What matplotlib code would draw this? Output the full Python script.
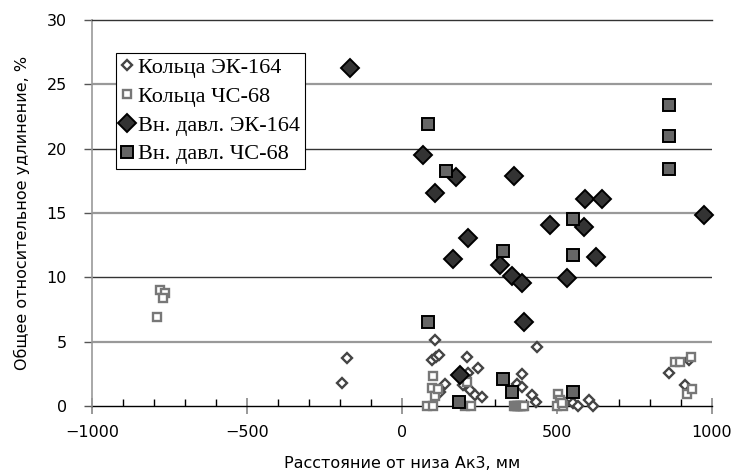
import numpy as np
import matplotlib
matplotlib.use('Agg')
import matplotlib.pyplot as plt
from matplotlib.ticker import MultipleLocator

# Кольца ЭК-164 (small open diamonds)
rings_ek_x = [-195, -178, 106, 98, 110, 120, 209, 246, 214, 139, 123, 198, 219, 235, 257,
              386, 370, 386, 418, 431, 434, 525, 553, 569, 603, 617, 861, 925, 913]
rings_ek_y = [1.8, 3.7, 5.15, 3.6, 3.8, 4.0, 3.8, 2.95, 2.6, 1.75, 1.1, 1.6, 1.25, 0.85, 0.7,
              2.5, 1.75, 1.5, 0.85, 0.3, 4.6, 0.2, 0.25, 0.0, 0.5, 0.0, 2.6, 3.6, 1.6]

# Кольца ЧС-68 (small open squares)
rings_cs_x = [-781, -765, -772, -789, 101, 96, 106, 80, 99, 115, 203, 222, 209,
              360, 365, 370, 375, 380, 385, 390, 395,
              502, 510, 499, 520, 515, 881, 897, 933, 920, 935]
rings_cs_y = [9.05, 8.8, 8.4, 6.9, 2.35, 1.4, 0.8, 0.0, 0.0, 1.3, 0.0, 0.0, 1.9,
              0, 0, 0, 0, 0, 0, 0, 0,
              0.95, 0.5, 0.0, 0.0, 0.2, 3.45, 3.45, 3.8, 0.9, 1.3]

# Вн. давл. ЭК-164 (big dark diamonds)
press_ek_x = [-168, 68, 106, 173, 361, 590, 645, 477, 587, 975, 212, 163, 316, 356, 386,
              531, 626, 395, 187]
press_ek_y = [26.3, 19.5, 16.55, 17.8, 17.9, 16.1, 16.1, 14.05, 13.9, 14.85, 13.05, 11.4,
              10.95, 10.1, 9.55, 9.95, 11.55, 6.5, 2.4]

# Вн. давл. ЧС-68 (big gray squares)
press_cs_x = [83, 142, 862, 862, 862, 551, 553, 327, 83, 327, 356, 551, 185]
press_cs_y = [21.95, 18.3, 23.4, 21.0, 18.4, 14.55, 11.75, 12.05, 6.55, 2.07, 1.06, 1.06, 0.29]

fig = plt.figure(figsize=(7.36, 4.73), dpi=100)
ax = fig.add_axes([0.125, 0.1416, 0.8424, 0.816])

# horizontal grid, alternating shades like the source (30 is drawn by the top spine)
for yv in range(5, 30, 5):
    if yv % 10 == 0:
        ax.axhline(yv, color='#333333', lw=1.0, zorder=0)
    else:
        ax.axhline(yv, color='#999999', lw=1.6, zorder=0)

ax.plot(rings_ek_x, rings_ek_y, ls='none', marker='D', ms=4.8, mfc='white', mec='#444444',
        mew=1.7, label='Кольца ЭК-164', clip_on=False, zorder=3)
ax.plot(rings_cs_x, rings_cs_y, ls='none', marker='s', ms=5.3, mfc='white', mec='#777777',
        mew=1.7, label='Кольца ЧС-68', clip_on=False, zorder=3)
ax.plot(press_ek_x, press_ek_y, ls='none', marker='D', ms=9.0, mfc='#333333', mec='black',
        mew=1.4, label='Вн. давл. ЭК-164', clip_on=False, zorder=4)
ax.plot(press_cs_x, press_cs_y, ls='none', marker='s', ms=8.3, mfc='#666666', mec='black',
        mew=1.4, label='Вн. давл. ЧС-68', clip_on=False, zorder=5)

ax.set_xlim(-1000, 1000)
ax.set_ylim(0, 30)
ax.xaxis.set_major_locator(MultipleLocator(500))
ax.xaxis.set_minor_locator(MultipleLocator(100))
ax.yaxis.set_major_locator(MultipleLocator(5))

ax.spines['right'].set_visible(False)
ax.spines['top'].set_color('#333333')
ax.spines['top'].set_linewidth(1.0)
ax.spines['left'].set_color('#999999')
ax.spines['left'].set_linewidth(1.2)
ax.spines['bottom'].set_color('black')
ax.spines['bottom'].set_linewidth(1.0)
ax.spines['bottom'].set_zorder(2)

ax.tick_params(axis='x', which='major', direction='inout', length=12, width=1.2,
               color='#888888', labelsize=11.5, pad=8)
ax.tick_params(axis='x', which='minor', direction='in', length=5, width=1.0, color='black')
ax.tick_params(axis='y', which='major', direction='out', length=6, width=1.0,
               color='#555555', labelsize=11.5, pad=12)

ax.set_xlabel('Расстояние от низа Ак3, мм', fontsize=11.5, labelpad=11)
ax.set_ylabel('Общее относительное удлинение, %', fontsize=11.5, labelpad=12)

leg = ax.legend(loc='upper left', bbox_to_anchor=(0.0387, 0.9145), frameon=True,
                fancybox=False, framealpha=1, edgecolor='black', borderpad=0.2,
                handlelength=0.6, handletextpad=0.2, labelspacing=0.37, borderaxespad=0,
                prop={'family': 'Liberation Serif', 'size': 16})
leg.get_frame().set_linewidth(0.8)
leg.set_zorder(10)

fig.savefig('out.png', dpi=100)
